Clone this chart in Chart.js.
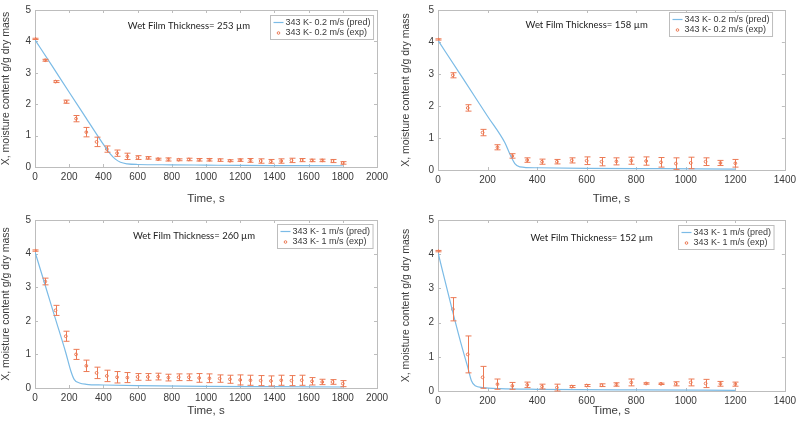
<!DOCTYPE html>
<html>
<head>
<meta charset="utf-8">
<script src="https://cdn.jsdelivr.net/npm/chart.js@4"></script>
<style>
body { margin: 0; background: #fff; width: 800px; height: 422px; position: relative; overflow: hidden; }
canvas { position: absolute; }
</style>
</head>
<body>
<canvas id="c1" width="400" height="210" style="left:0;top:0"></canvas>
<canvas id="c2" width="400" height="210" style="left:400px;top:0"></canvas>
<canvas id="c3" width="400" height="212" style="left:0;top:210px"></canvas>
<canvas id="c4" width="400" height="212" style="left:400px;top:210px"></canvas>
<script>
// experiment times (s)
const tLong = [0,60,120,180,240,300,360,420,480,540,600,660,720,780,840,900,960,1020,1080,1140,1200,1260,1320,1380,1440,1500,1560,1620,1680,1740,1800];
const tShort = [0,60,120,180,240,300,360,420,480,540,600,660,720,780,840,900,960,1020,1080,1140,1200];

// 253 um, 0.2 m/s
const exp1 = [4.08,3.40,2.72,2.08,1.54,1.11,0.80,0.57,0.44,0.34,0.30,0.29,0.25,0.24,0.23,0.24,0.23,0.23,0.22,0.20,0.22,0.21,0.19,0.18,0.19,0.21,0.22,0.21,0.21,0.19,0.13];
const err1 = [0.02,0.03,0.03,0.05,0.10,0.15,0.15,0.10,0.10,0.10,0.06,0.04,0.03,0.05,0.03,0.04,0.04,0.04,0.04,0.03,0.04,0.06,0.07,0.06,0.07,0.07,0.05,0.04,0.04,0.05,0.04];
const predT1 = [0,100,200,300,400,440,470,500,540,600,800,1000,1200,1500,1800];
const predX1 = [4.05,3.22,2.38,1.55,0.72,0.42,0.25,0.15,0.10,0.08,0.07,0.06,0.05,0.045,0.04];

// 158 um, 0.2 m/s
const exp2 = [4.08,2.96,1.94,1.17,0.71,0.44,0.31,0.26,0.26,0.30,0.29,0.26,0.27,0.29,0.28,0.24,0.20,0.22,0.26,0.22,0.21];
const err2 = [0.02,0.08,0.10,0.10,0.08,0.07,0.07,0.08,0.07,0.08,0.12,0.13,0.11,0.11,0.13,0.15,0.18,0.18,0.12,0.08,0.12];
const predT2 = [0,100,200,270,290,310,330,400,600,900,1200];
const predX2 = [4.05,2.87,1.68,0.85,0.50,0.20,0.10,0.07,0.05,0.04,0.03];

// 260 um, 1 m/s
const exp3 = [4.09,3.17,2.31,1.54,1.00,0.66,0.45,0.36,0.32,0.31,0.33,0.33,0.34,0.31,0.32,0.32,0.30,0.29,0.28,0.26,0.24,0.23,0.22,0.21,0.23,0.22,0.23,0.20,0.18,0.18,0.13];
const err3 = [0.02,0.10,0.15,0.15,0.15,0.17,0.17,0.17,0.17,0.15,0.10,0.10,0.10,0.10,0.10,0.10,0.13,0.13,0.11,0.12,0.15,0.15,0.15,0.15,0.15,0.15,0.15,0.11,0.08,0.07,0.09];
const predT3 = [0,60,120,180,210,230,260,300,400,600,1000,1400,1800];
const predX3 = [4.05,3.05,2.05,1.05,0.50,0.25,0.15,0.11,0.09,0.07,0.05,0.04,0.03];

// 152 um, 1 m/s
const exp4 = [4.09,2.39,1.07,0.40,0.20,0.15,0.18,0.13,0.10,0.13,0.16,0.17,0.19,0.25,0.22,0.21,0.21,0.25,0.22,0.21,0.20];
const err4 = [0.02,0.34,0.54,0.32,0.15,0.10,0.08,0.07,0.10,0.03,0.03,0.04,0.05,0.10,0.02,0.02,0.06,0.10,0.12,0.07,0.06];
const predT4 = [0,60,100,120,135,150,180,250,400,800,1200];
const predX4 = [4.05,2.30,1.20,0.70,0.30,0.15,0.10,0.07,0.05,0.03,0.02];

const predLabels = ['343 K- 0.2 m/s (pred)', '343 K- 0.2 m/s (pred)', '343 K- 1 m/s (pred)', '343 K- 1 m/s (pred)'];
const expLabels = ['343 K- 0.2 m/s (exp)', '343 K- 0.2 m/s (exp)', '343 K- 1 m/s (exp)', '343 K- 1 m/s (exp)'];
const notes = ['Wet Film Thickness= 253 µm', 'Wet Film Thickness= 158 µm', 'Wet Film Thickness= 260 µm', 'Wet Film Thickness= 152 µm'];
const noteX = [900, 600, 930, 620];
const noteY = [4.5, 4.54, 4.53, 4.47];

const BLUE = '#7bbbe6';
const ORANGE = '#ec7a55';
const AXIS = '#bdbdbd';
const TXT = '#3a3a3a';

const matlabAxes = {
    id: 'matlabAxes',
    beforeDatasetsDraw(chart) {
        const { ctx, chartArea: a, scales: { x, y } } = chart;
        ctx.save();
        ctx.strokeStyle = AXIS;
        ctx.lineWidth = 1;
        ctx.strokeRect(Math.round(a.left) + 0.5, Math.round(a.top) + 0.5, Math.round(a.right - a.left), Math.round(a.bottom - a.top));
        ctx.beginPath();
        x.ticks.forEach(t => {
            const px = Math.round(x.getPixelForValue(t.value)) + 0.5;
            ctx.moveTo(px, a.bottom); ctx.lineTo(px, a.bottom - 3);
            ctx.moveTo(px, a.top); ctx.lineTo(px, a.top + 3);
        });
        y.ticks.forEach(t => {
            const py = Math.round(y.getPixelForValue(t.value)) + 0.5;
            ctx.moveTo(a.left, py); ctx.lineTo(a.left + 3, py);
            ctx.moveTo(a.right, py); ctx.lineTo(a.right - 3, py);
        });
        ctx.stroke();
        ctx.restore();
    }
};

const errorBars = {
    id: 'errorBars',
    afterDatasetsDraw(chart) {
        const { ctx, scales: { x, y } } = chart;
        ctx.save();
        ctx.strokeStyle = ORANGE;
        ctx.lineWidth = 1;
        chart.data.datasets.forEach(ds => {
            if (!ds.errs) return;
            ctx.beginPath();
            ds.data.forEach((p, i) => {
                const px = Math.round(x.getPixelForValue(p.x)) + 0.5;
                const hi = y.getPixelForValue(p.y + ds.errs[i]);
                const lo = y.getPixelForValue(Math.max(0, p.y - ds.errs[i]));
                ctx.moveTo(px, hi); ctx.lineTo(px, lo);
                ctx.moveTo(px - 3, hi); ctx.lineTo(px + 3, hi);
                ctx.moveTo(px - 3, lo); ctx.lineTo(px + 3, lo);
            });
            ctx.stroke();
        });
        ctx.restore();
    }
};

const noteAndLegend = {
    id: 'noteAndLegend',
    afterDraw(chart, args, opts) {
        const { ctx, chartArea: a, scales: { x, y } } = chart;
        ctx.save();
        ctx.fillStyle = '#222';
        ctx.font = '9.5px Lato';
        ctx.textAlign = 'center';
        ctx.textBaseline = 'middle';
        ctx.fillText(opts.note, x.getPixelForValue(opts.noteX), y.getPixelForValue(opts.noteY));

        const ds = chart.data.datasets;
        ctx.font = '9px "Liberation Sans"';
        ctx.textAlign = 'left';
        const w = Math.max(...ds.map(d => ctx.measureText(d.label).width)) + 18;
        const right = a.right - opts.inset;
        const left = Math.round(right - w) + 0.5;
        const top = Math.round(a.top + opts.top) + 0.5;
        ctx.fillStyle = '#fff';
        ctx.fillRect(left, top, w, 24);
        ctx.strokeStyle = AXIS;
        ctx.strokeRect(left, top, w, 24);
        ds.forEach((d, i) => {
            const cy = top + 7 + i * 10.5;
            if (d.showLine) {
                ctx.strokeStyle = BLUE;
                ctx.lineWidth = 1.2;
                ctx.beginPath(); ctx.moveTo(left + 3, cy); ctx.lineTo(left + 13, cy); ctx.stroke();
            } else {
                ctx.strokeStyle = ORANGE;
                ctx.lineWidth = 1;
                ctx.beginPath(); ctx.arc(left + 8, cy, 1.3, 0, Math.PI * 2); ctx.stroke();
            }
            ctx.fillStyle = TXT;
            ctx.fillText(d.label, left + 15, cy);
        });
        ctx.restore();
    }
};

function makePanel(id, k, xs, exps, errs, pt, px, xMax, box) {
    const [left, right, top, bottom, height] = box;
    return new Chart(document.getElementById(id), {
        type: 'scatter',
        data: {
            datasets: [
                {
                    label: predLabels[k],
                    data: pt.map((t, i) => ({ x: t, y: px[i] })),
                    showLine: true,
                    borderColor: BLUE,
                    borderWidth: 1.2,
                    pointRadius: 0,
                    cubicInterpolationMode: 'monotone'
                },
                {
                    label: expLabels[k],
                    data: xs.map((t, i) => ({ x: t, y: exps[i] })),
                    errs: errs,
                    borderColor: ORANGE,
                    backgroundColor: 'rgba(0,0,0,0)',
                    borderWidth: 1,
                    pointRadius: 1.4
                }
            ]
        },
        options: {
            responsive: false,
            animation: false,
            layout: { padding: { top: top, right: 400 - right, left: 0, bottom: 0 } },
            plugins: {
                legend: { display: false },
                tooltip: { enabled: false },
                noteAndLegend: { note: notes[k], noteX: noteX[k], noteY: noteY[k], inset: box[5], top: box[6] }
            },
            scales: {
                x: {
                    min: 0, max: xMax,
                    ticks: { stepSize: 200, color: TXT, padding: 4, maxRotation: 0, callback: v => String(v), font: { family: 'Liberation Sans', size: 10 } },
                    grid: { drawOnChartArea: false, drawTicks: false },
                    border: { display: false },
                    title: { display: true, text: 'Time, s', color: TXT, padding: { top: 3 }, font: { family: 'Liberation Sans', size: 11.5 } },
                    afterFit: s => { s.height = height - bottom; }
                },
                y: {
                    min: 0, max: 5,
                    ticks: { stepSize: 1, color: TXT, padding: 4, callback: v => String(v), font: { family: 'Liberation Sans', size: 10 } },
                    grid: { drawOnChartArea: false, drawTicks: false },
                    border: { display: false },
                    title: { display: true, text: 'X, moisture content g/g dry mass', color: TXT, padding: 0, font: { family: 'Liberation Sans', size: 10.5 } },
                    afterFit: s => { s.width = left; }
                }
            }
        },
        plugins: [matlabAxes, errorBars, noteAndLegend]
    });
}

makePanel('c1', 0, tLong, exp1, err1, predT1, predX1, 2000, [35, 377, 3, 167, 210, 4, 5]);
makePanel('c2', 1, tShort, exp2, err2, predT2, predX2, 1400, [38, 395, 7, 170, 210, 13, 2]);
makePanel('c3', 2, tLong, exp3, err3, predT3, predX3, 2000, [35, 377, 9, 178, 212, 4, 4]);
makePanel('c4', 3, tShort, exp4, err4, predT4, predX4, 1400, [38, 394, 10, 181, 212, 11, 5]);
</script>
</body>
</html>
